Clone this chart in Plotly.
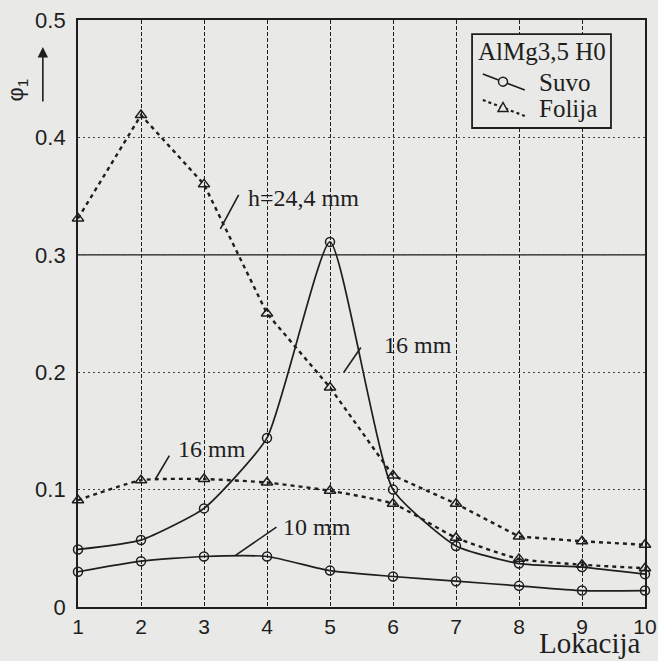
import plotly.graph_objects as go

# ---- data ----
locations = [1, 2, 3, 4, 5, 6, 7, 8, 9, 10]
suvo_10mm = [0.030, 0.039, 0.043, 0.043, 0.031, 0.026, 0.022, 0.018, 0.014, 0.014]
suvo_16mm = [0.049, 0.057, 0.084, 0.144, 0.311, 0.100, 0.052, 0.037, 0.034, 0.028]
folija_24mm = [0.331, 0.419, 0.360, 0.250, 0.187, 0.112, 0.088, 0.060, 0.056, 0.053]
folija_16mm = [0.091, 0.108, 0.109, 0.106, 0.099, 0.088, 0.059, 0.041, 0.036, 0.033]

x_ticks = [1, 2, 3, 4, 5, 6, 7, 8, 9, 10]
y_ticks = [0, 0.1, 0.2, 0.3, 0.4, 0.5]
y_tick_labels = ["0", "0.1", "0.2", "0.3", "0.4", "0.5"]

legend_title = "AlMg3,5 H0"
legend_names = ["Suvo", "Folija"]

BG = "#e9e9e7"
INK = "#1e1e1e"
SERIF = "Liberation Serif, Times New Roman, serif"
SANS = "Liberation Sans, Arial, sans-serif"
FOLIJA_DASH = "4px,4px"

fig = go.Figure()

def suvo(y, smoothing):
    fig.add_trace(go.Scatter(
        x=locations, y=y, mode="lines+markers", name="Suvo", showlegend=False,
        line=dict(color=INK, width=1.7, shape="spline", smoothing=smoothing),
        marker=dict(symbol="circle-open", size=9, color=INK, line=dict(width=1.5)),
        cliponaxis=False,
    ))

def folija(y, shape):
    fig.add_trace(go.Scatter(
        x=locations, y=y, mode="lines+markers", name="Folija", showlegend=False,
        line=dict(color=INK, width=2.4, dash=FOLIJA_DASH, shape=shape, smoothing=0.5),
        marker=dict(symbol="triangle-up-open", size=10, color=INK, line=dict(width=1.5)),
        cliponaxis=False,
    ))

suvo(suvo_10mm, 0.6)
suvo(suvo_16mm, 0.5)
folija(folija_24mm, "linear")
folija(folija_16mm, "spline")

# solid 0.3 grid line as in the scan
fig.add_shape(type="line", xref="paper", yref="y", x0=0, x1=1, y0=0.3, y1=0.3,
              line=dict(color=INK, width=1.3), layer="below")

# labels with leader lines
labels = [
    dict(text="h=24,4 mm", tx=3.66, ty=0.348, lx0=3.26, ly0=0.322, lx1=3.55, ly1=0.351),
    dict(text="16 mm", tx=5.82, ty=0.223, lx0=5.22, ly0=0.200, lx1=5.49, ly1=0.221),
    dict(text="16 mm", tx=2.55, ty=0.135, lx0=2.23, ly0=0.109, lx1=2.45, ly1=0.129),
    dict(text="10 mm", tx=4.23, ty=0.068, lx0=3.50, ly0=0.044, lx1=4.15, ly1=0.068),
]
for lb in labels:
    fig.add_shape(type="line", xref="x", yref="y", x0=lb["lx0"], y0=lb["ly0"],
                  x1=lb["lx1"], y1=lb["ly1"], line=dict(color=INK, width=1.6))
    fig.add_annotation(x=lb["tx"], y=lb["ty"], xref="x", yref="y", text=lb["text"],
                       showarrow=False, xanchor="left", yanchor="middle",
                       font=dict(family=SERIF, size=24, color=INK))

# ---- custom legend box (diagonal line samples as in the original) ----
fig.add_shape(type="rect", xref="paper", yref="paper", x0=0.695, x1=0.940,
              y0=0.816, y1=0.976, line=dict(color=INK, width=1.8), fillcolor=BG)
fig.add_annotation(xref="paper", yref="paper", x=0.819, y=0.946, text=legend_title,
                   showarrow=False, xanchor="center", yanchor="middle",
                   font=dict(family=SERIF, size=25, color=INK))
# Suvo sample
fig.add_shape(type="line", xref="paper", yref="paper", x0=0.714, y0=0.9080,
              x1=0.788, y1=0.8807, line=dict(color=INK, width=1.8))
fig.add_shape(type="circle", xref="paper", yref="paper", xsizemode="pixel",
              ysizemode="pixel", xanchor=0.7496, yanchor=0.8950, x0=-4.5, x1=4.5,
              y0=-4.5, y1=4.5, line=dict(color=INK, width=1.5), fillcolor=BG)
fig.add_annotation(xref="paper", yref="paper", x=0.8095, y=0.894, text=legend_names[0],
                   showarrow=False, xanchor="left", yanchor="middle",
                   font=dict(family=SERIF, size=25, color=INK))
# Folija sample
fig.add_shape(type="line", xref="paper", yref="paper", x0=0.714, y0=0.8637,
              x1=0.788, y1=0.8365, line=dict(color=INK, width=2.2, dash="3px,3px"))
fig.add_shape(type="path", xref="paper", yref="paper", xsizemode="pixel",
              ysizemode="pixel", xanchor=0.7496, yanchor=0.851,
              path="M -5,-4 L 5,-4 L 0,5 Z", line=dict(color=INK, width=1.5),
              fillcolor=BG)
fig.add_annotation(xref="paper", yref="paper", x=0.8095, y=0.850, text=legend_names[1],
                   showarrow=False, xanchor="left", yanchor="middle",
                   font=dict(family=SERIF, size=25, color=INK))

# y label phi_1 with upward arrow
fig.add_annotation(xref="paper", yref="paper", x=-0.108, y=0.881,
                   text="φ<sub>1</sub>", textangle=-90, showarrow=False,
                   xanchor="center", yanchor="middle",
                   font=dict(family=SANS, size=22, color=INK))
fig.add_annotation(xref="paper", yref="paper", x=-0.062, y=0.954,
                   ax=0, ay=56, axref="pixel", ayref="pixel",
                   text="", showarrow=True, arrowhead=2, arrowsize=1.3,
                   arrowwidth=1.6, arrowcolor=INK)

# x axis title
fig.add_annotation(xref="paper", yref="paper", x=0.9965, y=-0.0915, text="Lokacija",
                   showarrow=False, xanchor="right", yanchor="bottom",
                   font=dict(family=SERIF, size=29, color=INK))

fig.update_layout(
    width=658, height=661,
    margin=dict(l=78, r=13, t=20, b=54, autoexpand=False),
    paper_bgcolor=BG, plot_bgcolor=BG,
    showlegend=False,
    xaxis=dict(
        range=[1, 10], tickvals=x_ticks, ticks="", showline=True, mirror=True,
        linecolor=INK, linewidth=1.8, showgrid=True, gridcolor=INK, gridwidth=1.2,
        griddash="4px,2px", zeroline=False, automargin=False,
        tickfont=dict(family=SANS, size=21, color=INK),
    ),
    yaxis=dict(
        range=[0, 0.5], tickvals=y_ticks, ticktext=y_tick_labels, ticks="",
        showline=True, mirror=True, linecolor=INK, linewidth=1.8,
        showgrid=True, gridcolor="#444", gridwidth=1.2, griddash="2px,3px",
        zeroline=False, ticklabelstandoff=6, automargin=False,
        tickfont=dict(family=SANS, size=22, color=INK),
    ),
)

fig.write_html("out.html")
